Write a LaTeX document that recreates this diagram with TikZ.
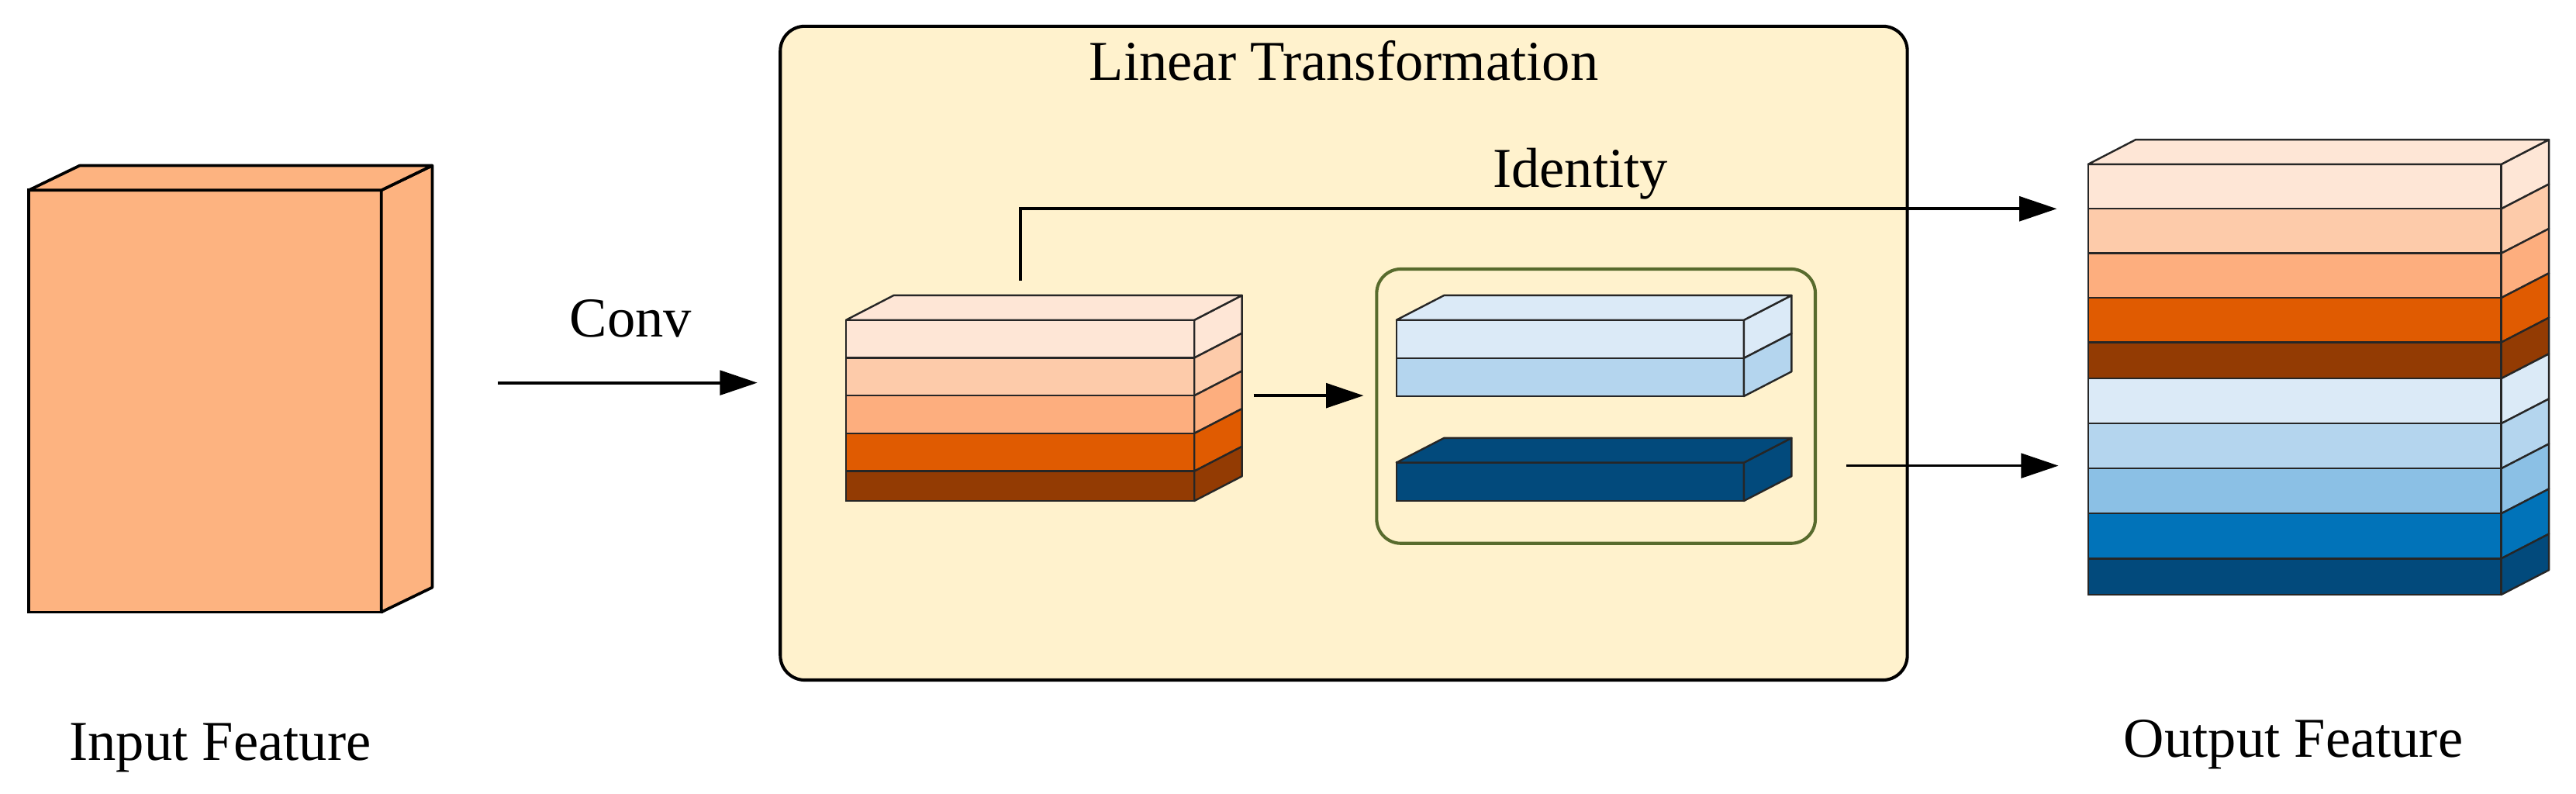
\documentclass[tikz,border=0pt]{standalone}
\usepackage{fontspec}
\setmainfont{Liberation Serif}
\usepackage{xcolor}
\usetikzlibrary{positioning, arrows.meta}

\definecolor{peach}{HTML}{FDB380}
\definecolor{cream}{HTML}{FFF2CD}
\definecolor{olive}{HTML}{586B2D}
\definecolor{orA}{HTML}{FEE6D6}
\definecolor{orB}{HTML}{FDCBAA}
\definecolor{orC}{HTML}{FDAE7E}
\definecolor{orD}{HTML}{E05B01}
\definecolor{orE}{HTML}{933B03}
\definecolor{blA}{HTML}{DBEAF7}
\definecolor{blB}{HTML}{B4D5EE}
\definecolor{blC}{HTML}{8BC0E5}
\definecolor{blD}{HTML}{0173B9}
\definecolor{blE}{HTML}{024A7C}

\newcommand{\dpx}{29}
\newcommand{\dpy}{15}
% front face as a node, side face drawn beside it
\newcommand{\slab}[6]{%
  \node[face, fill=#2, minimum width=#5*0.02cm, minimum height=#6*0.02cm] (#1) at ({#3},{#4}) {};
  \filldraw[sidef, fill=#2] (#1.north east) -- ++(\dpx,-\dpy) -- ++(0,#6) -- (#1.south east) -- cycle;}
\newcommand{\slabtop}[2]{%
  \filldraw[sidef, fill=#2] (#1.north west) -- ++(\dpx,-\dpy) -- ([shift={(\dpx,-\dpy)}]#1.north east) -- (#1.north east) -- cycle;}

\begin{document}
\begin{tikzpicture}[x=0.02cm, y=-0.02cm, font=\fontsize{19.5}{23}\selectfont,
    face/.style={draw=black!85, line width=0.65pt, inner sep=0pt, outer sep=0pt, anchor=north west},
    sidef/.style={draw=black!85, line width=0.65pt, line join=round},
    arr/.style={-{Triangle[length=13pt,width=8.5pt]}, line width=1pt}]
    \useasboundingbox (0,0) rectangle (1568,483);

    % input feature
    \begin{scope}[face/.append style={draw=black, line width=1pt}, sidef/.append style={draw=black, line width=1pt}]
    \renewcommand{\dpx}{31}
    \slab{in}{peach}{17.5}{115.8}{214.6}{256.8}
    \slabtop{in}{peach}
    \renewcommand{\dpx}{29}
    \end{scope}
    \node[anchor=base] (inlbl) at (134,462.6) {Input Feature};

    % linear transformation block
    \node[draw, fill=cream, line width=1.1pt, rounded corners=8.5pt, anchor=north west,
          minimum width=686*0.02cm, minimum height=398*0.02cm] (lt) at (474,15) {};
    \node[anchor=base] (lttl) at (818,48.7) {Linear Transformation};

    \foreach \c [count=\i] in {orA,orB,orC,orD} {
        \slab{o\i}{\c}{515}{194.8+(\i-1)*23}{212}{23}
    }
    \slab{o5}{orE}{515}{286.8}{212}{18.1}
    \slabtop{o1}{orA}

    \node[draw=olive, line width=1.1pt, rounded corners=8.4pt, anchor=north west,
          minimum width=267*0.02cm, minimum height=167*0.02cm] (grp) at (837,162.8) {};
    \slab{b1}{blA}{850}{194.8}{211.5}{23.2}
    \slab{b2}{blB}{850}{218}{211.5}{23.2}
    \slabtop{b1}{blA}
    \slab{b3}{blE}{850}{281.6}{211.5}{23.3}
    \slabtop{b3}{blE}

    % output feature
    \foreach \c [count=\i] in {orA,orB,orC,orD} {
        \slab{f\i}{\c}{1271}{100+(\i-1)*27.1}{251.5}{27.1}
    }
    \slab{f5}{orE}{1271}{208.4}{251.5}{22}
    \foreach \c [count=\i from 6] in {blA,blB,blC,blD} {
        \slab{f\i}{\c}{1271}{230.4+(\i-6)*27.4}{251.5}{27.4}
    }
    \slab{f10}{blE}{1271}{340}{251.5}{22}
    \slabtop{f1}{orA}
    \node[anchor=base] (outlbl) at (1396,461) {Output Feature};

    % connectors
    \coordinate (cvS) at (303,233);
    \draw[arr, shorten >=0.26cm] (cvS) -- (cvS -| lt.west);
    \node[anchor=base] (cvlbl) at (384,205) {Conv};

    \coordinate[above=0.48cm of o1.north] (idS);
    \draw[arr] (idS) |- ([xshift=-0.38cm]f1.south west);
    \node[anchor=base] (idlbl) at (962,114) {Identity};

    \coordinate[right=0.72cm of o2.south east] (gS);
    \draw[arr, shorten >=0.14cm] (gS) -- (gS -| grp.west);

    \coordinate (rS) at (1124,283.5);
    \draw[arr, shorten >=0.36cm] (rS) -- (rS -| f7.west);
\end{tikzpicture}
\end{document}
